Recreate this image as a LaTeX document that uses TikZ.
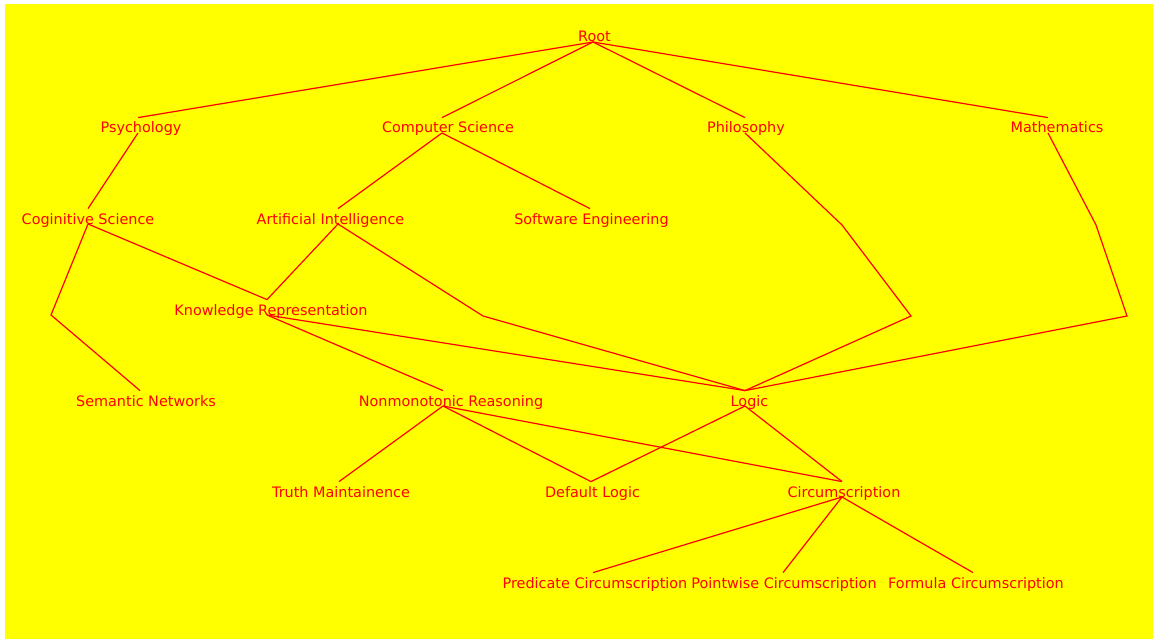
\documentclass[tikz,border=0pt]{standalone}
\usepackage{fontspec}
\setmainfont{DejaVu Sans}
\definecolor{bgyellow}{RGB}{255,255,0}
\definecolor{fgred}{RGB}{255,0,0}
\begin{document}
\begin{tikzpicture}[x=1pt,y=-1pt,
  gnode/.style={inner sep=0pt, minimum width=0pt, minimum height=15pt, anchor=south},
  lbl/.style={anchor=base, text=fgred, font=\fontsize{14.4}{17}\selectfont, inner sep=0pt},
  edge/.style={draw=fgred, line width=1.2pt, line join=miter}]
\useasboundingbox (0,0) rectangle (1153,639);
\fill[white] (0,0) rectangle (1153,639);
\fill[bgyellow] (5,4) rectangle (1153,639);
\newcommand\gn[5]{\node[gnode,label={[lbl,xshift=#4]south:#5}] (#1) at (#2,#3) {};}
% level 0
\gn{root}{593}{42}{1.5}{Root}
% level 1
\gn{psy}{138}{133}{3}{Psychology}
\gn{cs}{442}{133}{6}{Computer Science}
\gn{phil}{745}{133}{1}{Philosophy}
\gn{math}{1048}{133}{9}{Mathematics}
% level 2
\gn{cog}{88}{224}{0}{Coginitive Science}
\gn{ai}{338}{224}{-7.5}{Artificial Intelligence}
\gn{se}{590}{224}{1.5}{Software Engineering}
% level 3
\gn{kr}{267}{315}{4}{Knowledge Representation}
% level 4
\gn{sem}{140}{406}{6}{Semantic Networks}
\gn{nr}{443}{406}{8}{Nonmonotonic Reasoning}
\gn{logic}{745}{406}{4.5}{Logic}
% level 5
\gn{tm}{339}{497}{2}{Truth Maintainence}
\gn{dl}{591}{497}{1.5}{Default Logic}
\gn{circ}{842}{497}{2}{Circumscription}
% level 6
\gn{pred}{593}{588}{2}{Predicate Circumscription}
\gn{point}{783}{588}{1}{Pointwise Circumscription}
\gn{form}{973}{588}{3}{Formula Circumscription}
% bend points
\coordinate (b1) at (51,315);
\coordinate (b2) at (483,316);
\coordinate (b3) at (842,225);
\coordinate (b4) at (911,316);
\coordinate (b5) at (1096,225);
\coordinate (b6) at (1127,316);
% edges
\draw[edge] (root.south) -- (psy.north);
\draw[edge] (root.south) -- (cs.north);
\draw[edge] (root.south) -- (phil.north);
\draw[edge] (root.south) -- (math.north);
\draw[edge] (psy.south) -- (cog.north);
\draw[edge] (cs.south) -- (ai.north);
\draw[edge] (cs.south) -- (se.north);
\draw[edge] (cog.south) -- (kr.north);
\draw[edge] (cog.south) -- (b1) -- (sem.north);
\draw[edge] (ai.south) -- (kr.north);
\draw[edge] (ai.south) -- (b2) -- (logic.north);
\draw[edge] (phil.south) -- (b3) -- (b4) -- (logic.north);
\draw[edge] (math.south) -- (b5) -- (b6) -- (logic.north);
\draw[edge] (kr.south) -- (logic.north);
\draw[edge] (kr.south) -- (nr.north);
\draw[edge] (nr.south) -- (tm.north);
\draw[edge] (nr.south) -- (dl.north);
\draw[edge] (nr.south) -- (circ.north);
\draw[edge] (logic.south) -- (dl.north);
\draw[edge] (logic.south) -- (circ.north);
\draw[edge] (circ.south) -- (pred.north);
\draw[edge] (circ.south) -- (point.north);
\draw[edge] (circ.south) -- (form.north);
\end{tikzpicture}
\end{document}
